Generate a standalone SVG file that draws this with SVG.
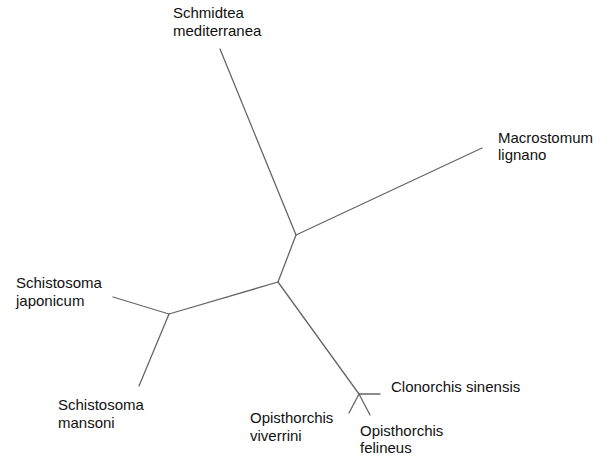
<svg xmlns="http://www.w3.org/2000/svg" width="614" height="459" viewBox="0 0 614 459">
<style>
.e{stroke:#666;stroke-width:1.3;fill:none;stroke-linecap:round}
text{font-family:"Liberation Sans",Arial,sans-serif;font-size:15px;fill:#111}
</style>
<rect width="614" height="459" fill="#fff"/>
<g id="connectors">
<line class="e" x1="296" y1="235" x2="220" y2="49"/>
<line class="e" x1="296" y1="235" x2="482" y2="148"/>
<line class="e" x1="296" y1="235" x2="278" y2="282"/>
<line class="e" x1="278" y1="282" x2="169" y2="314"/>
<line class="e" x1="169" y1="314" x2="113" y2="297"/>
<line class="e" x1="169" y1="314" x2="139" y2="386"/>
<line class="e" x1="278" y1="282" x2="359" y2="394"/>
<line class="e" x1="359" y1="394" x2="380" y2="394"/>
<line class="e" x1="359" y1="394" x2="349" y2="413"/>
<line class="e" x1="359" y1="394" x2="370" y2="415"/>
</g>
<g id="schmidtea"><text x="173" y="18">Schmidtea</text><text x="173" y="35.5">mediterranea</text></g>
<g id="macrostomum"><text x="498" y="143">Macrostomum</text><text x="498" y="160">lignano</text></g>
<g id="japonicum"><text x="16" y="288">Schistosoma</text><text x="16" y="305.5">japonicum</text></g>
<g id="mansoni"><text x="58" y="410">Schistosoma</text><text x="58" y="427.5">mansoni</text></g>
<g id="clonorchis"><text x="391" y="392">Clonorchis sinensis</text></g>
<g id="viverrini"><text x="250" y="423">Opisthorchis</text><text x="250" y="440.5">viverrini</text></g>
<g id="felineus"><text x="360" y="436">Opisthorchis</text><text x="360" y="453">felineus</text></g>
</svg>
